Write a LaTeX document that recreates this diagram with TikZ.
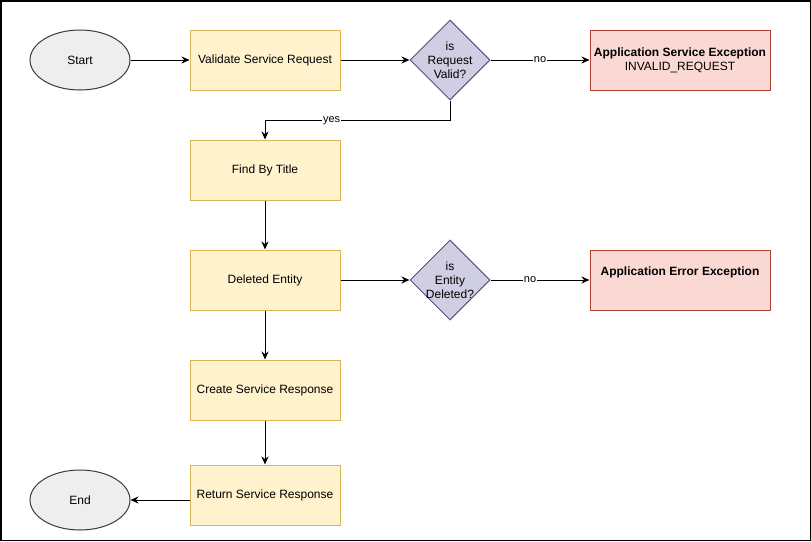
\documentclass[tikz,border=0pt]{standalone}
\usepackage{fontspec}
\setmainfont{Liberation Sans}
\usetikzlibrary{arrows.meta, positioning, shapes.geometric}
\definecolor{stepfill}{HTML}{FFF2CC}
\definecolor{stepline}{HTML}{D6B656}
\definecolor{termfill}{HTML}{EEEEEE}
\definecolor{termline}{HTML}{36393D}
\definecolor{decfill}{HTML}{D0CEE2}
\definecolor{decline}{HTML}{56517E}
\definecolor{errfill}{HTML}{FAD9D5}
\definecolor{errline}{HTML}{AE4132}
\tikzset{
  state/.style={
    draw=stepline,
    fill=stepfill,
    rectangle,
    line width=1pt,
    minimum height=60pt,
    minimum width=150pt,
    inner sep=0pt,
    align=center,
    font=\fontsize{12}{14}\selectfont,
  },
  terminal/.style={
    state,
    ellipse,
    draw=termline,
    fill=termfill,
    minimum width=100pt
  },
  decision/.style={
    state,
    diamond,
    aspect=1,
    inner sep=-5pt,
    draw=decline,
    fill=decfill,
    minimum width=80pt,
    minimum height=80pt
  },
  errstate/.style={
    state,
    draw=errline,
    fill=errfill,
    minimum width=180pt
  },
  arrow/.style={
    -{Stealth[length=8pt,width=7pt]},
    line width=1pt
  },
  edgelabel/.style={
    fill=white,
    inner sep=1pt,
    font=\fontsize{11}{13}\selectfont
  }
}

\begin{document}
\begin{tikzpicture}[x=1pt,y=-1pt]

% --- frame ---
\useasboundingbox (0,0) rectangle (811,541);
\draw[line width=1.5pt] (0.75,0.75) rectangle (810.25,540.25);

% --- top row ---
\node[terminal] (start) at (80,60) {Start};
\node[state] (validate) at (265,60) {Validate Service Request};
\node[decision] (valid) at (450,60) {is\\Request\\Valid?};
\node[errstate] (invalid) at (680,60) {\textbf{Application Service Exception}\\INVALID\_REQUEST};

% --- main column ---
\node[state] (find) at (265,170) {Find By Title};
\node[state] (deleted) at (265,280) {Deleted Entity};
\node[decision] (isdeleted) at (450,280) {is\\Entity\\Deleted?};
\node[errstate] (apperror) at (680,280) {\textbf{Application Error Exception}\\\strut};
\node[state] (create) at (265,390) {Create Service Response};
\node[state] (return) at (265,495) {Return Service Response};
\node[terminal] (end) at (80,500) {End};

% --- connectors ---
\draw[arrow] (start) -- (validate);
\draw[arrow] (validate) -- (valid);
\draw[arrow] (valid) -- node[edgelabel] {no} (invalid);
\draw[arrow] (valid.south) -- ++(0,20) -| node[edgelabel, pos=0.32] {yes} (find.north);
\draw[arrow] (find) -- (deleted);
\draw[arrow] (deleted) -- (isdeleted);
\draw[arrow] (isdeleted) -- node[edgelabel, pos=0.4] {no} (apperror);
\draw[arrow] (deleted) -- (create);
\draw[arrow] (create) -- (return);
\draw[arrow] (return.west |- end) -- (end);

\end{tikzpicture}
\end{document}
